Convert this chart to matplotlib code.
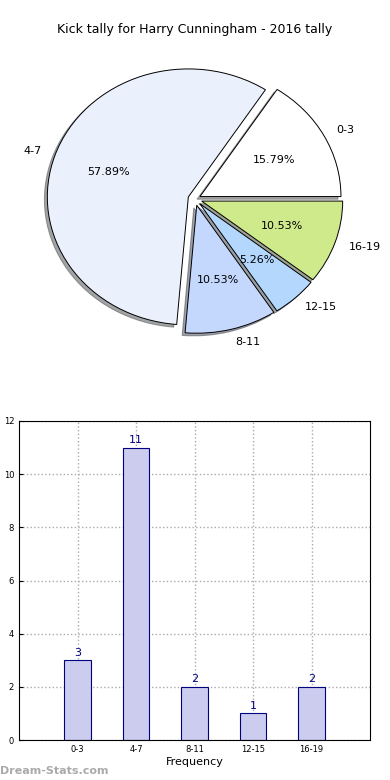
import numpy as np
import matplotlib
matplotlib.use('Agg')
import matplotlib.pyplot as plt

categorias = ['0-3', '4-7', '8-11', '12-15', '16-19']
valores = [3, 11, 2, 1, 2]
colores = ['#ffffff', '#eaf1fd', '#c4d7fd', '#b4d7fe', '#cfea8a']
explode = [0.04, 0.05, 0.05, 0.05, 0.05]

fig = plt.figure(figsize=(3.9, 7.8), dpi=100)
fig.text(0.5, 1 - 30 / 780, 'Kick tally for Harry Cunningham - 2016 tally',
         ha='center', va='center', fontsize=9)

# Pie (elliptical, como en matplotlib viejo sin aspect equal)
ax1 = fig.add_axes([0, (780 - 199 - 160) / 780, 1, 320 / 780])
ax1.pie(valores, labels=categorias, colors=colores, explode=explode,
        autopct='%1.2f%%', shadow={'ox': -0.015, 'oy': -0.015},
        startangle=0, counterclock=True,
        wedgeprops={'edgecolor': 'black', 'linewidth': 0.7},
        textprops={'fontsize': 8})
ax1.set_aspect('auto')
ax1.set_xlim(-195 / 141, 195 / 141)
ax1.set_ylim(-160 / 128, 160 / 128)
ax1.axis('off')

# Bars
ax2 = fig.add_axes([19 / 390, 40 / 780, 351 / 390, 319 / 780])
x = np.arange(len(categorias))
ax2.bar(x, valores, width=0.45, color='#ccccee', edgecolor='#000080',
        linewidth=0.8, zorder=2)
for xi, v in zip(x, valores):
    ax2.text(xi, v + 0.1, str(v), ha='center', va='bottom',
             color='#000080', fontsize=8, zorder=3)
ax2.set_xlim(-1, 5)
ax2.set_ylim(0, 12)
ax2.set_xticks(x)
ax2.set_xticklabels(categorias)
ax2.set_yticks(range(0, 13, 2))
ax2.tick_params(direction='in', labelsize=6, length=3)
ax2.grid(True, ls=':', color='#aaaaaa', lw=1, zorder=0)
ax2.set_axisbelow(True)
ax2.set_xlabel('Frequency', fontsize=8, labelpad=2)
ax2.set_ylabel('Distribution Tally', fontsize=7, labelpad=6)

fig.text(0.0, 1 - 771 / 780, 'Dream-Stats.com', color='#aaaaaa',
         fontsize=8, ha='left', va='center', fontweight='bold')

fig.savefig('out.png', dpi=100)
